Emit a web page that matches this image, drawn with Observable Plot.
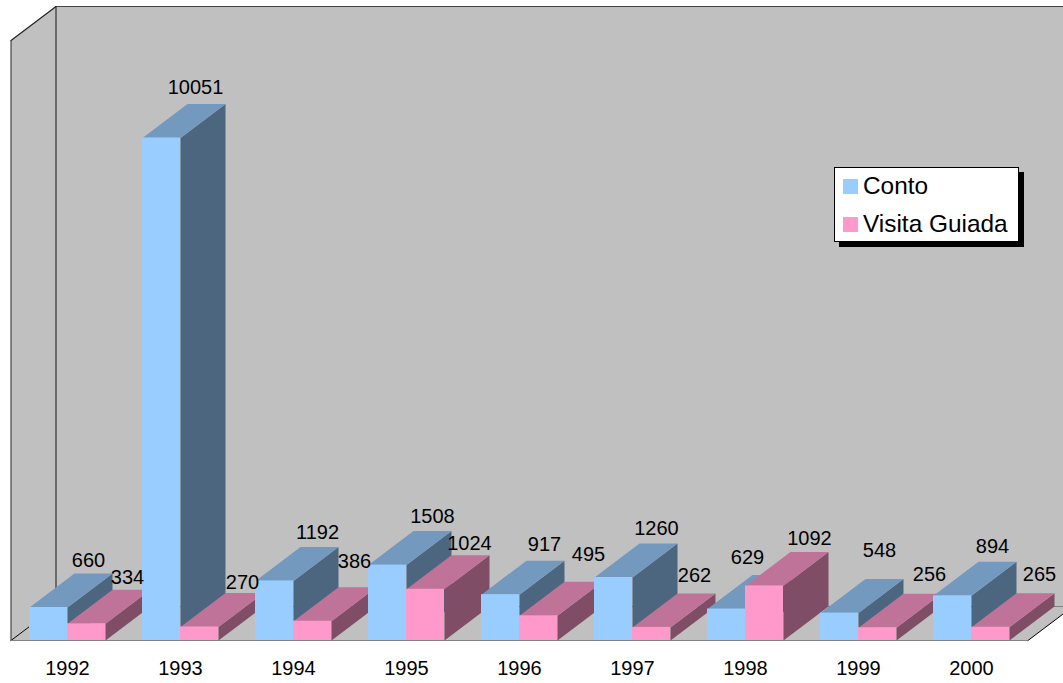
<!DOCTYPE html>
<html>
<head>
<meta charset="utf-8">
<script src="https://cdn.jsdelivr.net/npm/d3@7"></script>
<script src="https://cdn.jsdelivr.net/npm/@observablehq/plot@0.6"></script>
<style>
  html, body { margin: 0; padding: 0; background: #fff; overflow: hidden; }
  #wrap { position: relative; width: 1063px; height: 683px; font-family: "Liberation Sans", Arial, sans-serif; }
  #wrap svg { display: block; position: absolute; left: 0; top: 0; background: transparent; }
  #legend { position: absolute; left: 834px; top: 167px; width: 183px; height: 73px; background: #fff; border: 1px solid #000; box-shadow: 5px 5px 0 #000; box-sizing: content-box; color: #000; font-size: 24.4px; line-height: 24px; }
  #legend .row { position: absolute; left: 8px; display: flex; align-items: center; white-space: nowrap; }
  #legend .sw { width: 15px; height: 15px; margin-right: 5px; display: inline-block; }
</style>
</head>
<body>
<div id="wrap">
  <div id="chart"></div>
  <div id="legend"></div>
</div>
<script>
const years = [1992, 1993, 1994, 1995, 1996, 1997, 1998, 1999, 2000];
const conto = [660, 10051, 1192, 1508, 917, 1260, 629, 548, 894];
const visita = [334, 270, 386, 1024, 495, 262, 1092, 256, 265];
const seriesNames = ["Conto", "Visita Guiada"];

// Layout: label nudges in pixels, depth of the 3D projection in scale units
const contoNudge = [[40,-47],[34,-50],[43,-48],[45,-49],[44,-50],[43,-49],[21,-51],[40,-63],[40,-49]];
const visitaNudge = [[41,-46],[43,-44],[42,-60],[44,-46],[50,-61],[43,-52],[45,-47],[52,-53],[49,-53]];
const depthX = 45 / 113;
const depthY = 680;
const barW = 38 / 113;
const yMax = 12000;
const xMin = -0.5, xMax = 8.5;

const wall = "#C0C0C0";
const palette = {
  blue: {front: "#99CCFF", top: "#7399BF", side: "#4D6680"},
  pink: {front: "#FF99CC", top: "#BF7399", side: "#804D66"}
};

function poly(points, fill) {
  return Plot.line(points.map(([x, y]) => ({x, y})), {x: "x", y: "y", fill, stroke: "none"});
}
function edge(points, stroke, strokeWidth) {
  return Plot.line(points.map(([x, y]) => ({x, y})), {x: "x", y: "y", stroke, strokeWidth});
}
function bar(x0, v, c) {
  const x1 = x0 + barW;
  return [
    poly([[x1, 0], [x1 + depthX, depthY], [x1 + depthX, v + depthY], [x1, v]], c.side),
    poly([[x0, v], [x1, v], [x1 + depthX, v + depthY], [x0 + depthX, v + depthY]], c.top),
    Plot.rect([{x0, x1, v}], {x1: "x0", x2: "x1", y1: 0, y2: "v", fill: c.front})
  ];
}

const bx = xMin + depthX;                // back-wall left
const bxR = xMax + depthX;               // back-wall right

const marks = [
  // walls and floor
  poly([[bx, depthY], [bx, yMax + depthY], [bxR, yMax + depthY], [bxR, depthY]], wall),
  poly([[xMin, 0], [xMin, yMax], [bx, yMax + depthY], [bx, depthY]], wall),
  poly([[xMin, 0], [bx, depthY], [bxR, depthY], [xMax, 0]], wall),
  edge([[bx, depthY], [bxR, depthY]], "#808080", 1),
  edge([[xMin, 0], [bx, depthY]], "#000", 1),
  edge([[bx, depthY], [bx, yMax + depthY]], "#333", 1.2),
  edge([[bx, yMax + depthY], [bxR, yMax + depthY]], "#444", 1.2),
  edge([[xMin, yMax], [bx, yMax + depthY]], "#222", 1.2),
  edge([[xMin, 0], [xMin, yMax]], "#444", 1.2),
  edge([[xMax, 0], [bxR, depthY]], "#000", 1),
  // bars, painted back to front
  ...years.flatMap((_, i) => [
    ...bar(i - barW, conto[i], palette.blue),
    ...bar(i, visita[i], palette.pink)
  ]),
  edge([[xMin, 0], [xMax, 0]], "#808080", 1.2),
  // value labels
  ...years.flatMap((_, i) => [
    Plot.text([{x: i - barW / 2, y: conto[i], t: String(conto[i])}], {x: "x", y: "y", text: "t", dx: contoNudge[i][0], dy: contoNudge[i][1], fill: "#000"}),
    Plot.text([{x: i + barW / 2, y: visita[i], t: String(visita[i])}], {x: "x", y: "y", text: "t", dx: visitaNudge[i][0], dy: visitaNudge[i][1], fill: "#000"})
  ]),
  // category axis
  Plot.axisX(d3.range(years.length), {
    anchor: "bottom", tickSize: 0, tickPadding: 20, tickFormat: i => String(years[i]),
    label: null, fontSize: 20, fill: "#000"
  })
];

const chart = Plot.plot({
  width: 1063,
  height: 683,
  marginTop: 0, marginRight: 0, marginBottom: 43, marginLeft: 0,
  style: {background: "transparent", fontFamily: '"Liberation Sans", Arial, sans-serif', fontSize: "20px", color: "#000"},
  x: {type: "linear", domain: [xMin, xMax], range: [10.5, 1027.5], axis: null},
  y: {type: "linear", domain: [0, yMax], range: [640, 40], axis: null},
  marks
});
document.getElementById("chart").appendChild(chart);

const swatches = [palette.blue.front, palette.pink.front];
const legend = document.getElementById("legend");
seriesNames.forEach((name, i) => {
  const row = document.createElement("div");
  row.className = "row";
  row.style.top = (i === 0 ? 6 : 44) + "px";
  const sw = document.createElement("span");
  sw.className = "sw";
  sw.style.background = swatches[i];
  const t = document.createElement("span");
  t.textContent = name;
  row.append(sw, t);
  legend.appendChild(row);
});
</script>
</body>
</html>
